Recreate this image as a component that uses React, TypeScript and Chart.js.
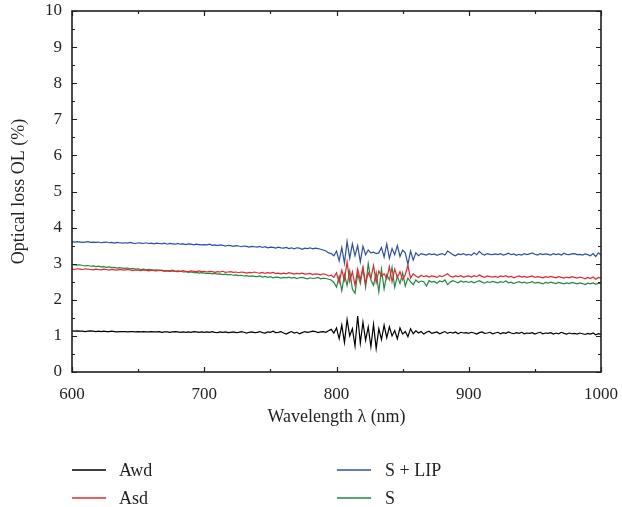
import React, { useEffect, useRef } from "react";
import { Chart, registerables } from "chart.js";

Chart.register(...registerables);

const wavelengths: number[] = Array.from({ length: 201 }, (_, i) => 600 + 2 * i);

const awd: number[] = [
  1.14, 1.13, 1.14, 1.13, 1.13, 1.12, 1.13, 1.14, 1.13, 1.12,
  1.13, 1.12, 1.13, 1.12, 1.12, 1.13, 1.12, 1.11, 1.12, 1.12,
  1.12, 1.11, 1.12, 1.12, 1.11, 1.12, 1.11, 1.12, 1.11, 1.11,
  1.12, 1.11, 1.11, 1.12, 1.10, 1.11, 1.11, 1.10, 1.11, 1.12,
  1.11, 1.10, 1.11, 1.10, 1.11, 1.10, 1.12, 1.11, 1.10, 1.11,
  1.10, 1.11, 1.10, 1.12, 1.10, 1.09, 1.11, 1.10, 1.11, 1.09,
  1.10, 1.11, 1.09, 1.10, 1.12, 1.10, 1.08, 1.10, 1.11, 1.09,
  1.10, 1.12, 1.09, 1.08, 1.11, 1.10, 1.13, 1.09, 1.10, 1.12,
  1.08, 1.05, 1.09, 1.12, 1.08, 1.10, 1.06, 1.09, 1.12, 1.10,
  1.11, 1.13, 1.12, 1.09, 1.11, 1.12, 1.10, 1.14, 1.18, 1.08,
  1.22, 0.92, 1.30, 0.82, 1.45, 1.00, 1.20, 0.72, 1.55, 0.80,
  1.38, 0.88, 1.25, 0.70, 1.32, 0.65, 1.20, 0.90, 1.30, 0.95,
  1.25, 1.00, 1.15, 0.92, 1.22, 1.05, 1.12, 0.98, 1.20, 1.06,
  1.14, 1.08, 1.12, 1.05, 1.10, 1.13, 1.07, 1.09, 1.11, 1.06,
  1.09, 1.12, 1.07, 1.10, 1.08, 1.11, 1.06, 1.10, 1.08, 1.09,
  1.07, 1.10, 1.08, 1.05, 1.09, 1.11, 1.07, 1.08, 1.10, 1.06,
  1.08, 1.10, 1.06, 1.09, 1.07, 1.11, 1.08, 1.06, 1.09, 1.07,
  1.10, 1.06, 1.08, 1.07, 1.09, 1.05, 1.08, 1.10, 1.06, 1.08,
  1.07, 1.09, 1.05, 1.08, 1.06, 1.10, 1.07, 1.05, 1.08, 1.06,
  1.07, 1.05, 1.08, 1.06, 1.04, 1.07, 1.05, 1.08, 1.03, 1.06, 1.04,
];

const asd: number[] = [
  2.85, 2.84, 2.86, 2.85, 2.84, 2.86, 2.85, 2.84, 2.83, 2.85,
  2.84, 2.83, 2.85, 2.84, 2.82, 2.84, 2.83, 2.82, 2.84, 2.83,
  2.82, 2.84, 2.83, 2.81, 2.83, 2.82, 2.81, 2.83, 2.82, 2.80,
  2.82, 2.81, 2.80, 2.82, 2.81, 2.79, 2.81, 2.80, 2.82, 2.79,
  2.80, 2.79, 2.81, 2.79, 2.78, 2.80, 2.79, 2.78, 2.80, 2.78,
  2.79, 2.77, 2.79, 2.78, 2.76, 2.78, 2.77, 2.79, 2.76, 2.77,
  2.78, 2.76, 2.77, 2.75, 2.77, 2.76, 2.74, 2.76, 2.75, 2.77,
  2.75, 2.74, 2.76, 2.73, 2.75, 2.74, 2.76, 2.73, 2.74, 2.72,
  2.74, 2.72, 2.75, 2.73, 2.71, 2.73, 2.72, 2.74, 2.71, 2.72,
  2.73, 2.70, 2.72, 2.71, 2.69, 2.72, 2.70, 2.66, 2.68, 2.62,
  2.75, 2.48, 2.82, 2.55, 3.05, 2.50, 2.78, 2.40, 2.85, 2.55,
  2.90, 2.45, 2.75, 2.60, 2.95, 2.48, 2.80, 2.65, 2.72, 2.58,
  2.92, 2.50, 2.85, 2.62, 2.78, 2.55, 2.70, 2.95, 2.60, 2.72,
  2.66, 2.62, 2.68, 2.64, 2.67, 2.63, 2.66, 2.65, 2.62, 2.67,
  2.64, 2.68, 2.72, 2.65, 2.63, 2.66, 2.64, 2.67, 2.63, 2.65,
  2.66, 2.63, 2.67, 2.64, 2.69, 2.65, 2.62, 2.66, 2.64, 2.63,
  2.65, 2.62, 2.66, 2.64, 2.67, 2.63, 2.65, 2.61, 2.64, 2.66,
  2.63, 2.65, 2.62, 2.64, 2.66, 2.62, 2.64, 2.63, 2.61, 2.64,
  2.62, 2.65, 2.63, 2.61, 2.64, 2.62, 2.60, 2.63, 2.61, 2.64,
  2.62, 2.60, 2.63, 2.61, 2.58, 2.62, 2.59, 2.63, 2.57, 2.62, 2.60,
];

const sLip: number[] = [
  3.61, 3.60, 3.61, 3.60, 3.59, 3.60, 3.61, 3.59, 3.60, 3.59,
  3.60, 3.58, 3.59, 3.60, 3.58, 3.59, 3.57, 3.59, 3.58, 3.57,
  3.58, 3.57, 3.59, 3.57, 3.56, 3.58, 3.57, 3.56, 3.58, 3.56,
  3.57, 3.55, 3.57, 3.56, 3.55, 3.57, 3.54, 3.56, 3.55, 3.54,
  3.56, 3.54, 3.55, 3.53, 3.55, 3.54, 3.52, 3.54, 3.53, 3.52,
  3.53, 3.52, 3.54, 3.51, 3.52, 3.50, 3.52, 3.51, 3.49, 3.51,
  3.50, 3.48, 3.50, 3.49, 3.47, 3.49, 3.48, 3.46, 3.48, 3.47,
  3.46, 3.48, 3.45, 3.47, 3.44, 3.46, 3.45, 3.43, 3.46, 3.44,
  3.43, 3.45, 3.42, 3.44, 3.41, 3.44, 3.43, 3.40, 3.43, 3.42,
  3.44, 3.41, 3.43, 3.42, 3.40, 3.38, 3.35, 3.30, 3.28, 3.22,
  3.35, 3.08, 3.45, 3.02, 3.62, 3.15, 3.55, 3.22, 3.50, 3.05,
  3.48, 3.25, 3.38, 3.30, 3.32, 3.28, 3.30, 3.45, 3.18, 3.55,
  3.15, 3.42, 3.25, 3.50, 3.20, 3.38, 3.30, 2.98, 3.35, 3.10,
  3.30, 3.22, 3.28, 3.26, 3.24, 3.28, 3.25, 3.27, 3.23, 3.26,
  3.28, 3.24, 3.35, 3.30, 3.25, 3.22, 3.27, 3.25, 3.28, 3.24,
  3.26, 3.23, 3.30, 3.25, 3.34, 3.27, 3.24, 3.28, 3.26, 3.25,
  3.27, 3.25, 3.28, 3.24, 3.26, 3.29, 3.25, 3.27, 3.23, 3.26,
  3.24, 3.28, 3.25, 3.27, 3.30, 3.26, 3.24, 3.28, 3.25, 3.27,
  3.26, 3.24, 3.28, 3.25, 3.27, 3.24, 3.29, 3.26, 3.25, 3.27,
  3.28, 3.25, 3.26, 3.24, 3.27, 3.25, 3.22, 3.28, 3.20, 3.30, 3.24,
];

const sOnly: number[] = [
  2.98, 2.97, 2.96, 2.97, 2.95, 2.94, 2.95, 2.93, 2.94, 2.92,
  2.93, 2.91, 2.92, 2.90, 2.91, 2.89, 2.90, 2.88, 2.89, 2.88,
  2.87, 2.88, 2.86, 2.87, 2.85, 2.86, 2.84, 2.85, 2.83, 2.84,
  2.83, 2.82, 2.83, 2.81, 2.82, 2.80, 2.81, 2.79, 2.80, 2.79,
  2.78, 2.79, 2.77, 2.78, 2.76, 2.77, 2.75, 2.76, 2.74, 2.75,
  2.74, 2.73, 2.74, 2.72, 2.73, 2.71, 2.72, 2.70, 2.71, 2.69,
  2.70, 2.68, 2.69, 2.67, 2.68, 2.66, 2.67, 2.65, 2.66, 2.65,
  2.64, 2.66, 2.63, 2.65, 2.62, 2.64, 2.61, 2.63, 2.62, 2.60,
  2.62, 2.61, 2.63, 2.60, 2.62, 2.59, 2.61, 2.62, 2.60, 2.58,
  2.61, 2.59, 2.60, 2.62, 2.58, 2.60, 2.59, 2.57, 2.55, 2.48,
  2.35, 2.65, 2.25, 2.70, 2.40, 2.80, 2.30, 2.18, 2.72, 2.45,
  2.88, 2.35, 3.00, 2.55, 2.40, 2.75, 2.22, 2.85, 2.30, 2.70,
  2.55, 2.90, 2.35, 2.65, 2.45, 2.75, 2.38, 2.60, 2.50, 2.42,
  2.55, 2.48, 2.52, 2.50, 2.38, 2.53, 2.49, 2.51, 2.46, 2.52,
  2.50, 2.55, 2.42, 2.49, 2.53, 2.50, 2.47, 2.52, 2.49, 2.51,
  2.48, 2.51, 2.47, 2.50, 2.53, 2.49, 2.46, 2.50, 2.48, 2.51,
  2.49, 2.47, 2.50, 2.48, 2.52, 2.47, 2.49, 2.45, 2.48, 2.50,
  2.47, 2.49, 2.46, 2.48, 2.50, 2.46, 2.48, 2.47, 2.44, 2.48,
  2.46, 2.49, 2.47, 2.45, 2.48, 2.46, 2.44, 2.47, 2.45, 2.48,
  2.46, 2.44, 2.47, 2.45, 2.42, 2.46, 2.44, 2.47, 2.43, 2.46, 2.45,
];

const seriesNames: string[] = ["Awd", "Asd", "S + LIP", "S"];
const seriesColors: string[] = ["#000000", "#e8242c", "#2d4fa6", "#1f8a42"];
const xMajorTicks: number[] = [600, 700, 800, 900, 1000];
const xMinorTicks: number[] = [650, 750, 850, 950];
const yMajorTicks: number[] = [0, 1, 2, 3, 4, 5, 6, 7, 8, 9, 10];
const yMinorTicks: number[] = [0.5, 1.5, 2.5, 3.5, 4.5, 5.5, 6.5, 7.5, 8.5, 9.5];

const FONT = "'Liberation Serif', 'Times New Roman', serif";
const INK = "#231f20";

const frameAndTicks = {
  id: "frameAndTicks",
  afterDraw(chart: any) {
    const { ctx, chartArea } = chart;
    const { left, right, top, bottom } = chartArea;
    const xs = chart.scales.x;
    const ys = chart.scales.y;
    ctx.save();
    ctx.strokeStyle = INK;
    ctx.lineWidth = 1.2;
    ctx.beginPath();
    const xt = (vals: number[], len: number) => {
      vals.forEach((v) => {
        const p = Math.round(xs.getPixelForValue(v)) + 0.5;
        ctx.moveTo(p, bottom);
        ctx.lineTo(p, bottom - len);
        ctx.moveTo(p, top);
        ctx.lineTo(p, top + len);
      });
    };
    const yt = (vals: number[], len: number) => {
      vals.forEach((v) => {
        const p = Math.round(ys.getPixelForValue(v)) + 0.5;
        ctx.moveTo(left, p);
        ctx.lineTo(left + len, p);
        ctx.moveTo(right, p);
        ctx.lineTo(right - len, p);
      });
    };
    xt(xMajorTicks, 5);
    xt(xMinorTicks, 3);
    yt(yMajorTicks, 5);
    yt(yMinorTicks, 3);
    ctx.stroke();
    ctx.lineWidth = 1.6;
    ctx.strokeRect(left, top, right - left, bottom - top);
    ctx.restore();
  },
};

const legendLayout = [
  { lineX: 72, textX: 119, y: 470 },
  { lineX: 72, textX: 119, y: 498 },
  { lineX: 337, textX: 385, y: 470 },
  { lineX: 337, textX: 385, y: 498 },
];

const customLegend = {
  id: "customLegend",
  afterDraw(chart: any) {
    const { ctx } = chart;
    ctx.save();
    ctx.font = `18px ${FONT}`;
    ctx.textBaseline = "middle";
    ctx.textAlign = "left";
    chart.data.datasets.forEach((ds: any, i: number) => {
      const pos = legendLayout[i];
      ctx.strokeStyle = ds.borderColor;
      ctx.lineWidth = 1.3;
      ctx.beginPath();
      ctx.moveTo(pos.lineX, pos.y);
      ctx.lineTo(pos.lineX + 34, pos.y);
      ctx.stroke();
      ctx.fillStyle = INK;
      ctx.fillText(ds.label, pos.textX, pos.y + 1);
    });
    ctx.restore();
  },
};

function zeroPadding(scale: any) {
  scale.paddingTop = 0;
  scale.paddingBottom = 0;
  scale.paddingLeft = 0;
  scale.paddingRight = 0;
}

export default function App() {
  const ref = useRef<HTMLCanvasElement | null>(null);
  useEffect(() => {
    document.body.style.margin = "0";
    const canvas = ref.current;
    if (!canvas) return;
    const all = [awd, asd, sLip, sOnly];
    const chart = new Chart(canvas, {
      type: "line",
      data: {
        datasets: all.map((vals, i) => ({
          label: seriesNames[i],
          data: vals.map((v, j) => ({ x: wavelengths[j], y: v })),
          borderColor: seriesColors[i],
          backgroundColor: seriesColors[i],
          borderWidth: 1.2,
          pointRadius: 0,
          tension: 0,
          fill: false,
        })),
      },
      options: {
        responsive: false,
        animation: false,
        devicePixelRatio: 1,
        layout: { padding: { left: 0, right: 21, top: 11, bottom: 79 } },
        plugins: { legend: { display: false }, tooltip: { enabled: false } },
        scales: {
          x: {
            type: "linear",
            min: 600,
            max: 1000,
            border: { display: false },
            grid: { display: false, drawTicks: false },
            ticks: {
              stepSize: 100,
              padding: 12,
              color: INK,
              font: { family: FONT, size: 17 },
              maxRotation: 0,
              callback: (v: any) => String(v),
            },
            title: {
              display: true,
              text: "Wavelength λ (nm)",
              color: INK,
              font: { family: FONT, size: 18 },
              padding: { top: 0, bottom: 0 },
            },
            afterFit(scale: any) {
              scale.height = 56;
              zeroPadding(scale);
            },
          },
          y: {
            type: "linear",
            min: 0,
            max: 10,
            border: { display: false },
            grid: { display: false, drawTicks: false },
            ticks: {
              stepSize: 1,
              padding: 10,
              color: INK,
              font: { family: FONT, size: 17 },
              callback: (v: any) => String(v),
            },
            title: {
              display: true,
              text: "Optical loss OL (%)",
              color: INK,
              font: { family: FONT, size: 18 },
              padding: { top: 8, bottom: 0 },
            },
            afterFit(scale: any) {
              scale.width = 72;
              zeroPadding(scale);
            },
          },
        },
      },
      plugins: [frameAndTicks, customLegend],
    });
    return () => chart.destroy();
  }, []);
  return (
    <div style={{ width: 622, height: 507 }}>
      <canvas ref={ref} width={622} height={507} style={{ width: 622, height: 507, display: "block" }} />
    </div>
  );
}
